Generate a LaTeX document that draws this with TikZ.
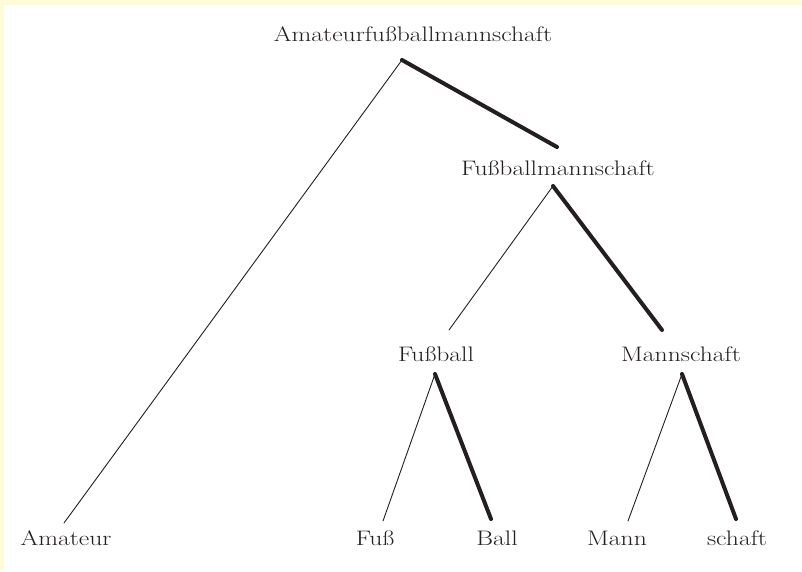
\documentclass[tikz,border=0pt]{standalone}
\usepackage{fontspec}
\setmainfont{Latin Modern Roman}[FakeStretch=1.22]
\definecolor{cream}{HTML}{FFFAD7}
\definecolor{ink}{HTML}{231F20}
\begin{document}
\begin{tikzpicture}[x=1pt,y=-1pt,
  lbl/.style={anchor=base,inner sep=0pt,text=ink,font=\fontsize{21}{25}\selectfont},
  thinedge/.style={draw=ink,line width=0.9pt,line cap=round},
  thickedge/.style={draw=ink,line width=4pt,line cap=round}]
\useasboundingbox (0,0) rectangle (802,571);
\fill[cream] (0,0) rectangle (802,571);
\fill[white] (4,5) rectangle (802,571);
% nodes
\node[lbl] (root) at (413,41) {Amateurfußballmannschaft};
\node[lbl] (fbm) at (558,175) {Fußballmannschaft};
\node[lbl] (fb) at (436,361) {Fußball};
\node[lbl] (ms) at (681,361) {Mannschaft};
\node[lbl] (am) at (66,545) {Amateur};
\node[lbl] (fu) at (375,545) {Fuß};
\node[lbl] (ba) at (497,545) {Ball};
\node[lbl] (ma) at (617,545) {Mann};
\node[lbl] (sc) at (737,545) {schaft};
% edge end points
\coordinate (rootB) at (402,60);
\coordinate (amT) at (64,523);
\coordinate (fbmT) at (557,147);
\coordinate (fbmB) at (553,186);
\coordinate (fbT) at (449,330);
\coordinate (msT) at (662,330);
\coordinate (fbB) at (435,374);
\coordinate (fuT) at (383,521);
\coordinate (baT) at (491,519);
\coordinate (msB) at (682,374);
\coordinate (maT) at (628,521);
\coordinate (scT) at (736,519);
% edges
\draw[thinedge] (rootB) -- (amT);
\draw[thickedge] (rootB) -- (fbmT);
\draw[thinedge] (fbmB) -- (fbT);
\draw[thickedge] (fbmB) -- (msT);
\draw[thinedge] (fbB) -- (fuT);
\draw[thickedge] (fbB) -- (baT);
\draw[thinedge] (msB) -- (maT);
\draw[thickedge] (msB) -- (scT);
\end{tikzpicture}
\end{document}
